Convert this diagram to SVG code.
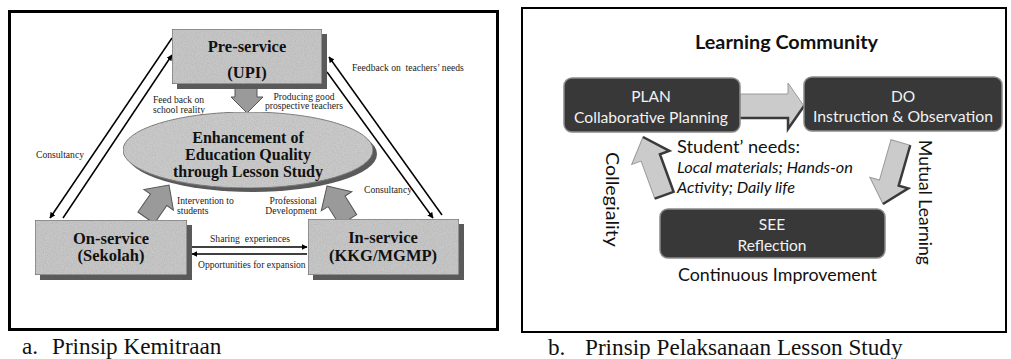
<svg xmlns="http://www.w3.org/2000/svg" width="1011" height="359" viewBox="0 0 1011 359">
  <style>
    .box-title { font-family: "Liberation Serif", serif; font-weight: bold; font-size: 16.5px; fill: #111; text-anchor: middle; }
    .core { font-family: "Liberation Serif", serif; font-weight: bold; font-size: 16px; fill: #111; text-anchor: middle; }
    .note { font-family: "Liberation Serif", serif; font-size: 9.6px; fill: #222; }
    .caption { font-family: "Liberation Serif", serif; font-size: 23.2px; fill: #111; }
    .partner { fill: #c6c6c6; stroke: #555; stroke-width: 1; }
    .partner-shadow { fill: #5a5a5a; }
    .flow { fill: none; stroke: #000; stroke-width: 1.5; }
    .block { fill: #9a9a9a; stroke: #555; stroke-width: 1; }
    .stage { fill: #383838; stroke: #8a8a8a; stroke-width: 1.5; }
    .stage-name { font-family: "Lato", "Carlito", "Liberation Sans", sans-serif; font-size: 15.5px; fill: #f2f2f2; text-anchor: middle; }
    .lc { font-family: "Lato", "Carlito", "Liberation Sans", sans-serif; fill: #111; }
    .step { fill: #cbcbcb; stroke: #9a9a9a; stroke-width: 1; }
    .step-edge { fill: none; stroke: #3a3a3a; stroke-width: 2.5; }
  </style>
  <defs>
    <marker id="tip" viewBox="0 0 10 10" refX="9" refY="5" markerWidth="6" markerHeight="6" markerUnits="userSpaceOnUse" orient="auto">
      <path d="M0,0 L10,5 L0,10 z" fill="#000"/>
    </marker>
    <filter id="grain" x="0" y="0" width="1" height="1">
      <feTurbulence type="fractalNoise" baseFrequency="0.9" numOctaves="2" seed="4" result="noise"/>
      <feColorMatrix in="noise" type="matrix" values="0 0 0 0 0.35  0 0 0 0 0.35  0 0 0 0 0.35  0.9 0 0 0 -0.35" result="speck"/>
      <feComposite in="speck" in2="SourceGraphic" operator="atop"/>
    </filter>
    <clipPath id="panel-b-clip">
      <rect x="522" y="8" width="484" height="277"/>
    </clipPath>
  </defs>

  <!-- Panel a: partnership -->
  <rect x="9.5" y="11.5" width="488" height="318" fill="#fff" stroke="#000" stroke-width="3"/>

  <g id="connectors-a">
    <!-- diagonal links, left side -->
    <line class="flow" x1="172" y1="38" x2="50" y2="218" marker-end="url(#tip)"/>
    <line class="flow" x1="63" y1="218" x2="172" y2="55" marker-end="url(#tip)"/>
    <!-- diagonal links, right side -->
    <line class="flow" x1="327" y1="72" x2="433" y2="218" marker-end="url(#tip)"/>
    <line class="flow" x1="442" y1="215" x2="329" y2="57" marker-end="url(#tip)"/>
    <!-- horizontal links between schools and KKG/MGMP -->
    <line class="flow" x1="192" y1="247" x2="307" y2="247" stroke-width="1.3" marker-end="url(#tip)"/>
    <line class="flow" x1="307" y1="254" x2="192" y2="254" stroke-width="1.3" marker-end="url(#tip)"/>
    <!-- block arrows into the core ellipse -->
    <polygon class="block" points="235,84 257,84 257,97 263,97 247,113 231,97 235,97"/>
    <g transform="translate(169,185) rotate(35)">
      <polygon class="block" points="0,0 18,18 10,18 10,40 -10,40 -10,18 -18,18"/>
    </g>
    <g transform="translate(327,186) rotate(-32)">
      <polygon class="block" points="0,0 18,18 10,18 10,40 -10,40 -10,18 -18,18"/>
    </g>
    <!-- link labels -->
    <text class="note" x="153" y="103">Feed back on</text>
    <text class="note" x="153" y="113">school reality</text>
    <text class="note" x="304" y="100" text-anchor="middle">Producing good</text>
    <text class="note" x="304" y="109" text-anchor="middle">prospective teachers</text>
    <text class="note" x="352" y="71" xml:space="preserve">Feedback on  teachers’ needs</text>
    <text class="note" x="36" y="158">Consultancy</text>
    <text class="note" x="364" y="193">Consultancy</text>
    <text class="note" x="177" y="204">Intervention to</text>
    <text class="note" x="177" y="214">students</text>
    <text class="note" x="317" y="204" text-anchor="end">Professional</text>
    <text class="note" x="317" y="214" text-anchor="end">Development</text>
    <text class="note" x="210" y="242" xml:space="preserve">Sharing  experiences</text>
    <text class="note" x="198" y="268">Opportunities for expansion</text>
  </g>

  <g id="pre-service">
    <rect class="partner-shadow" x="177" y="34" width="150" height="55"/>
    <rect class="partner" x="172" y="29" width="150" height="55" filter="url(#grain)"/>
    <text class="box-title" x="247" y="52">Pre-service</text>
    <text class="box-title" x="247" y="78">(UPI)</text>
  </g>

  <g id="core">
    <ellipse cx="252" cy="154" rx="125" ry="38" fill="#5a5a5a"/>
    <ellipse cx="248" cy="150" rx="125" ry="38" fill="#c9c9c9" stroke="#777" stroke-width="1" filter="url(#grain)"/>
    <text class="core" x="248" y="143">Enhancement of</text>
    <text class="core" x="248" y="160">Education Quality</text>
    <text class="core" x="248" y="177">through Lesson Study</text>
  </g>

  <g id="on-service">
    <rect class="partner-shadow" x="40" y="225" width="152" height="55"/>
    <rect class="partner" x="35" y="220" width="152" height="55" filter="url(#grain)"/>
    <text class="box-title" x="111" y="244">On-service</text>
    <text class="box-title" x="111" y="261">(Sekolah)</text>
  </g>

  <g id="in-service">
    <rect class="partner-shadow" x="313" y="224" width="151" height="56"/>
    <rect class="partner" x="308" y="219" width="151" height="56" filter="url(#grain)"/>
    <text class="box-title" x="383" y="243">In-service</text>
    <text class="box-title" x="383" y="261">(KKG/MGMP)</text>
  </g>

  <text class="caption" y="354"><tspan x="22">a.</tspan><tspan x="52">Prinsip Kemitraan</tspan></text>

  <!-- Panel b: lesson study cycle -->
  <rect x="522" y="8" width="484" height="324" fill="#fff" stroke="#000" stroke-width="2"/>

  <g id="title-b">
    <text class="lc" x="695" y="49" font-size="18" font-weight="bold" textLength="183" lengthAdjust="spacingAndGlyphs">Learning Community</text>
  </g>

  <g id="connectors-b">
    <!-- PLAN to DO -->
    <polygon class="step" points="740,94 788,94 788,83 804,106 788,129 788,118 740,118"/>
    <polyline class="step-edge" points="740,118 788,118 788,129 804,106"/>
    <!-- DO to SEE -->
    <g transform="translate(883,204) rotate(16)">
      <polygon class="step" points="0,0 -20,-22 -10,-22 -10,-64 10,-64 10,-22 20,-22"/>
      <polyline class="step-edge" points="0,0 20,-22 10,-22 10,-64"/>
    </g>
    <!-- SEE back to PLAN -->
    <g transform="translate(643,137) rotate(-20)">
      <polygon class="step" points="0,0 20,22 10,22 10,62 -10,62 -10,22 -20,22"/>
      <polyline class="step-edge" points="0,0 20,22 10,22 10,62 -10,62"/>
    </g>
  </g>

  <g id="plan">
    <rect class="stage" x="564" y="78" width="176" height="54" rx="8"/>
    <text class="stage-name" x="651" y="102">PLAN</text>
    <text class="stage-name" x="651" y="123" textLength="154" lengthAdjust="spacingAndGlyphs">Collaborative Planning</text>
  </g>

  <g id="do">
    <rect class="stage" x="804" y="77" width="198" height="54" rx="8"/>
    <text class="stage-name" x="903" y="102">DO</text>
    <text class="stage-name" x="903" y="122" textLength="180" lengthAdjust="spacingAndGlyphs">Instruction &amp; Observation</text>
  </g>

  <g id="see">
    <rect class="stage" x="660" y="209" width="225" height="49" rx="8"/>
    <text class="stage-name" x="772" y="230">SEE</text>
    <text class="stage-name" x="772" y="251">Reflection</text>
  </g>

  <g id="needs">
    <text class="lc" x="677" y="153" font-size="18" textLength="123" lengthAdjust="spacingAndGlyphs">Student’ needs:</text>
    <text class="lc" x="677" y="173" font-size="16" font-style="italic" textLength="176" lengthAdjust="spacingAndGlyphs">Local materials; Hands-on</text>
    <text class="lc" x="677" y="193" font-size="16" font-style="italic" textLength="118" lengthAdjust="spacingAndGlyphs">Activity; Daily life</text>
  </g>

  <g id="side-labels">
    <text class="lc" font-size="18" transform="translate(606,152) rotate(90)" textLength="95" lengthAdjust="spacingAndGlyphs">Collegiality</text>
    <text class="lc" font-size="18" transform="translate(919,140) rotate(90)" textLength="125" lengthAdjust="spacingAndGlyphs">Mutual Learning</text>
    <text class="lc" x="678" y="281" font-size="18" textLength="199" lengthAdjust="spacingAndGlyphs" clip-path="url(#panel-b-clip)">Continuous Improvement</text>
  </g>

  <text class="caption" y="355"><tspan x="548">b.</tspan><tspan x="585">Prinsip Pelaksanaan Lesson Study</tspan></text>
</svg>
